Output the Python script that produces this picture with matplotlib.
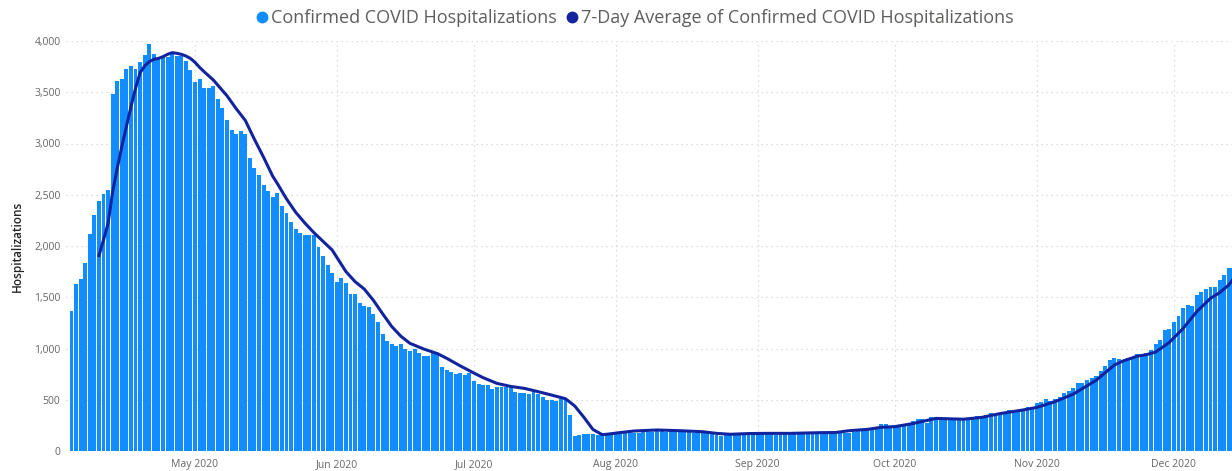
import numpy as np
import pandas as pd
import matplotlib
matplotlib.use("Agg")
import matplotlib.pyplot as plt
import matplotlib.dates as mdates
from matplotlib.lines import Line2D
from matplotlib.ticker import FuncFormatter

plt.rcParams['font.family'] = ['Open Sans', 'DejaVu Sans']

# daily confirmed hospitalizations, 2020-04-04 .. 2020-12-14
apr = [1366, 1629, 1678, 1831, 2120, 2299, 2442, 2510, 2546, 3480, 3610, 3633, 3730, 3756,
       3730, 3792, 3860, 3968, 3873, 3821, 3844, 3844, 3883, 3856, 3850, 3802, 3717]
may = [3600, 3626, 3541, 3538, 3564, 3431, 3346, 3229, 3135, 3096, 3122, 3096, 2862, 2765,
       2690, 2595, 2533, 2475, 2514, 2393, 2318, 2236, 2166, 2131, 2107, 2107, 2107, 1987,
       1898, 1811, 1739]
jun = [1652, 1691, 1642, 1535, 1535, 1441, 1415, 1402, 1333, 1258, 1138, 1070, 1044, 1024,
       1047, 998, 976, 998, 959, 927, 927, 953, 953, 817, 794, 771, 748, 761, 741, 764]
jul = [686, 654, 641, 641, 602, 628, 628, 621, 621, 579, 569, 569, 556, 579, 556, 524, 498,
       498, 485, 504, 504, 351, 146, 156, 163, 163, 163, 156, 156, 163, 163]
aug = [163, 170, 172, 175, 178, 180, 185, 190, 188, 192, 195, 190, 193, 190, 188, 185, 182,
       180, 178, 175, 172, 165, 155, 150, 152, 155, 158, 160, 158, 162, 160]
sep = [162, 165, 168, 165, 160, 163, 168, 170, 172, 170, 168, 165, 170, 172, 175, 170, 168,
       172, 175, 178, 180, 185, 195, 200, 205, 215, 235, 260, 262, 245]
oct_ = [237, 240, 248, 260, 293, 309, 309, 276, 328, 328, 309, 319, 314, 314, 314, 314, 318,
        325, 341, 341, 351, 367, 360, 374, 385, 397, 397, 384, 407, 432, 432]
nov = [471, 481, 504, 491, 504, 530, 562, 588, 611, 660, 660, 693, 715, 735, 780, 829, 888,
       911, 898, 888, 904, 920, 946, 937, 959, 985, 1044, 1083, 1180, 1187]
dec = [1262, 1317, 1392, 1424, 1415, 1522, 1554, 1580, 1603, 1603, 1668, 1717, 1782, 1790]

# 7-day average line
avg_dates = ["2020-04-10", "2020-04-11", "2020-04-12", "2020-04-13", "2020-04-14", "2020-04-15",
             "2020-04-16", "2020-04-17", "2020-04-18", "2020-04-19", "2020-04-20", "2020-04-21",
             "2020-04-22", "2020-04-23", "2020-04-24", "2020-04-25", "2020-04-26", "2020-04-27",
             "2020-04-28", "2020-04-29", "2020-04-30", "2020-05-01", "2020-05-02", "2020-05-03",
             "2020-05-05", "2020-05-08", "2020-05-10", "2020-05-12", "2020-05-14", "2020-05-16",
             "2020-05-18", "2020-05-19", "2020-05-21", "2020-05-23", "2020-05-25", "2020-05-27",
             "2020-05-29", "2020-05-31", "2020-06-01", "2020-06-03", "2020-06-05", "2020-06-07",
             "2020-06-09", "2020-06-11", "2020-06-13", "2020-06-15", "2020-06-17", "2020-06-20",
             "2020-06-23", "2020-06-25", "2020-06-28", "2020-07-01", "2020-07-03", "2020-07-06",
             "2020-07-09", "2020-07-12", "2020-07-15", "2020-07-18", "2020-07-21", "2020-07-23",
             "2020-07-25", "2020-07-27", "2020-07-29", "2020-07-30", "2020-08-02", "2020-08-05",
             "2020-08-10", "2020-08-15", "2020-08-20", "2020-08-23", "2020-08-26", "2020-08-30",
             "2020-09-03", "2020-09-08", "2020-09-15", "2020-09-18", "2020-09-21", "2020-09-25",
             "2020-09-28", "2020-10-01", "2020-10-05", "2020-10-10", "2020-10-16", "2020-10-20",
             "2020-10-24", "2020-10-29", "2020-11-01", "2020-11-05", "2020-11-09", "2020-11-14",
             "2020-11-18", "2020-11-20", "2020-11-23", "2020-11-25", "2020-11-27", "2020-11-30",
             "2020-12-03", "2020-12-06", "2020-12-09", "2020-12-11", "2020-12-13", "2020-12-14"]
avg_values = [1906, 2059, 2221, 2530, 2758, 2969, 3165, 3359, 3538, 3691, 3756, 3798,
              3821, 3830, 3847, 3870, 3886, 3880, 3870, 3854, 3830, 3792, 3743, 3700,
              3620, 3465, 3340, 3225, 3040, 2865, 2680, 2610, 2460, 2330, 2225, 2130,
              2045, 1960, 1890, 1750, 1652, 1580, 1470, 1340, 1215, 1120, 1050, 995,
              950, 905, 830, 760, 715, 660, 630, 611, 579, 545, 510, 440,
              330, 210, 160, 163, 180, 195, 205, 198, 188, 172, 163, 170,
              172, 172, 179, 180, 198, 211, 231, 238, 268, 318, 310, 328,
              365, 400, 425, 481, 555, 690, 839, 880, 925, 940, 965, 1060,
              1195, 1360, 1490, 1545, 1620, 1680]

daily = apr + may + jun + jul + aug + sep + oct_ + nov + dec
dates = pd.date_range("2020-04-04", periods=len(daily), freq="D")
avg_d = pd.to_datetime(avg_dates)

bar_col = "#118DFF"
line_col = "#12239E"

fig = plt.figure(figsize=(12.32, 4.71), dpi=100)
ax = fig.add_axes([66 / 1232, 20 / 471, 1 - 66 / 1232, 410 / 471])

ax.bar(dates, daily, width=0.86, color=bar_col, zorder=2)
ax.plot(avg_d, avg_values, color=line_col, lw=2.2, zorder=3, solid_joinstyle="round")

ax.set_ylim(0, 4000)
ax.set_xlim(dates[0] - pd.Timedelta(days=1.2), dates[0] + pd.Timedelta(days=253.7))
ax.set_yticks(np.arange(0, 4001, 500))
ax.yaxis.set_major_formatter(FuncFormatter(lambda v, p: f"{int(v):,}"))
ax.xaxis.set_major_locator(mdates.MonthLocator(bymonthday=1))
ax.xaxis.set_major_formatter(mdates.DateFormatter("%b %Y"))

ax.grid(True, color="#d4d4d4", linestyle=(0, (1, 3)), linewidth=0.9, zorder=0)
for s in ax.spines.values():
    s.set_visible(False)
ax.tick_params(length=0, labelsize=7.5, colors="#666666", pad=4)
ax.tick_params(axis="x", pad=6)
ax.set_ylabel("Hospitalizations", fontsize=8.5, color="#252423", fontweight="semibold", labelpad=7)

handles = [Line2D([], [], marker="o", ls="", color=bar_col, markersize=7.5),
           Line2D([], [], marker="o", ls="", color=line_col, markersize=7.5)]
fig.legend(handles, ["Confirmed COVID Hospitalizations",
                     "7-Day Average of Confirmed COVID Hospitalizations"],
           loc="upper center", bbox_to_anchor=(0.515, 1.015), ncol=2, frameon=False,
           fontsize=13, handlelength=0.7, handletextpad=0.15, columnspacing=0.5,
           labelcolor="#605E5C")

fig.savefig("out.png", dpi=100)
